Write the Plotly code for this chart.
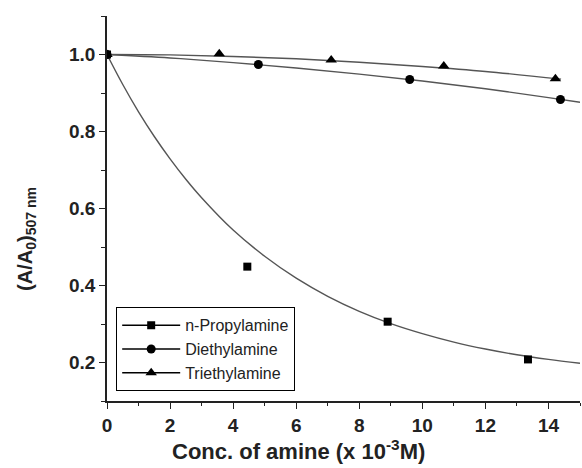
import plotly.graph_objects as go

# measured points
prop_x = [0, 4.45, 8.9, 13.35]
prop_y = [1.0, 0.449, 0.306, 0.208]
diet_x = [0, 4.8, 9.6, 14.38]
diet_y = [1.0, 0.974, 0.935, 0.883]
triet_x = [0, 3.56, 7.11, 10.68, 14.22]
triet_y = [1.0, 1.002, 0.986, 0.970, 0.937]

# fitted curves
prop_fit_x = [0, 0.5, 1, 1.5, 2, 2.5, 3, 4, 5, 6, 7, 8, 9, 10, 11, 12, 13, 14, 15]
prop_fit_y = [1.0, 0.922, 0.851, 0.787, 0.729, 0.676, 0.628, 0.544, 0.476, 0.419,
              0.372, 0.333, 0.301, 0.275, 0.253, 0.235, 0.220, 0.208, 0.198]
diet_fit_x = [0, 2, 4, 6, 8, 10, 12, 14, 15]
diet_fit_y = [1.0, 0.991, 0.979, 0.965, 0.949, 0.931, 0.911, 0.888, 0.876]
triet_fit_x = [0, 2, 4, 6, 8, 10, 12, 14.4]
triet_fit_y = [1.0, 0.999, 0.995, 0.989, 0.980, 0.969, 0.956, 0.936]

names = ["n-Propylamine", "Diethylamine", "Triethylamine"]
symbols = ["square", "circle", "triangle-up"]
sizes = [8, 9, 10]

FONT = "Liberation Sans, Arial, sans-serif"
FIT_COLOR = "#555555"
INK = "#222222"

fig = go.Figure()
for fx, fy in [(prop_fit_x, prop_fit_y), (diet_fit_x, diet_fit_y), (triet_fit_x, triet_fit_y)]:
    fig.add_trace(go.Scatter(x=fx, y=fy, mode="lines", line=dict(color=FIT_COLOR, width=1.4, shape="spline"),
                             showlegend=False, hoverinfo="skip"))
for px, py, sym, sz in [(prop_x, prop_y, symbols[0], sizes[0]), (diet_x, diet_y, symbols[1], sizes[1]),
                        (triet_x, triet_y, symbols[2], sizes[2])]:
    fig.add_trace(go.Scatter(x=px, y=py, mode="markers", marker=dict(symbol=sym, size=sz, color="black"),
                             showlegend=False))
for nm, sym, sz in zip(names, symbols, sizes):
    fig.add_trace(go.Scatter(x=[None], y=[None], mode="lines+markers", name=nm,
                             line=dict(color="black", width=1.5),
                             marker=dict(symbol=sym, size=sz, color="black")))

fig.update_layout(
    width=582, height=468,
    margin=dict(l=107, r=2, t=16, b=67),
    plot_bgcolor="white", paper_bgcolor="white",
    font=dict(family=FONT, color=INK),
    showlegend=True,
    legend=dict(x=0.019, y=0.244, xanchor="left", yanchor="top",
                bgcolor="white", bordercolor="black", borderwidth=1.2,
                font=dict(size=16, family=FONT, color=INK),
                itemwidth=58, tracegroupgap=0),
    xaxis=dict(range=[0, 15], tickmode="linear", tick0=0, dtick=2,
               showgrid=False, zeroline=False, showline=True, linecolor=INK, linewidth=1.5,
               ticks="outside", ticklen=6, tickwidth=1.3, tickcolor=INK,
               tickfont=dict(size=19, family=FONT, color=INK, weight="bold"),
               minor=dict(dtick=1, ticks="outside", ticklen=3, tickwidth=1, tickcolor=INK)),
    yaxis=dict(range=[0.1, 1.1], tickmode="linear", tick0=0, dtick=0.2, tickformat=".1f",
               showgrid=False, zeroline=False, showline=True, linecolor=INK, linewidth=1.5,
               ticks="outside", ticklen=6, tickwidth=1.3, tickcolor=INK,
               tickfont=dict(size=19, family=FONT, color=INK, weight="bold"),
               minor=dict(dtick=0.1, ticks="outside", ticklen=4, tickwidth=1, tickcolor=INK)),
    annotations=[
        dict(text="(A/A<sub>0</sub>)<sub>507 nm</sub>", xref="paper", yref="paper",
             x=-0.17, y=0.42, xanchor="center", yanchor="middle", textangle=-90, showarrow=False,
             font=dict(size=20, family=FONT, color=INK, weight="bold")),
        dict(text="Conc. of amine (x 10<sup>-3</sup>M)", xref="paper", yref="paper",
             x=0.404, y=-0.128, xanchor="center", yanchor="middle", showarrow=False,
             font=dict(size=22, family=FONT, color=INK, weight="bold")),
    ],
)

fig.write_html("out.html", config={"displayModeBar": False},
               post_script="document.body.style.margin='0';")
